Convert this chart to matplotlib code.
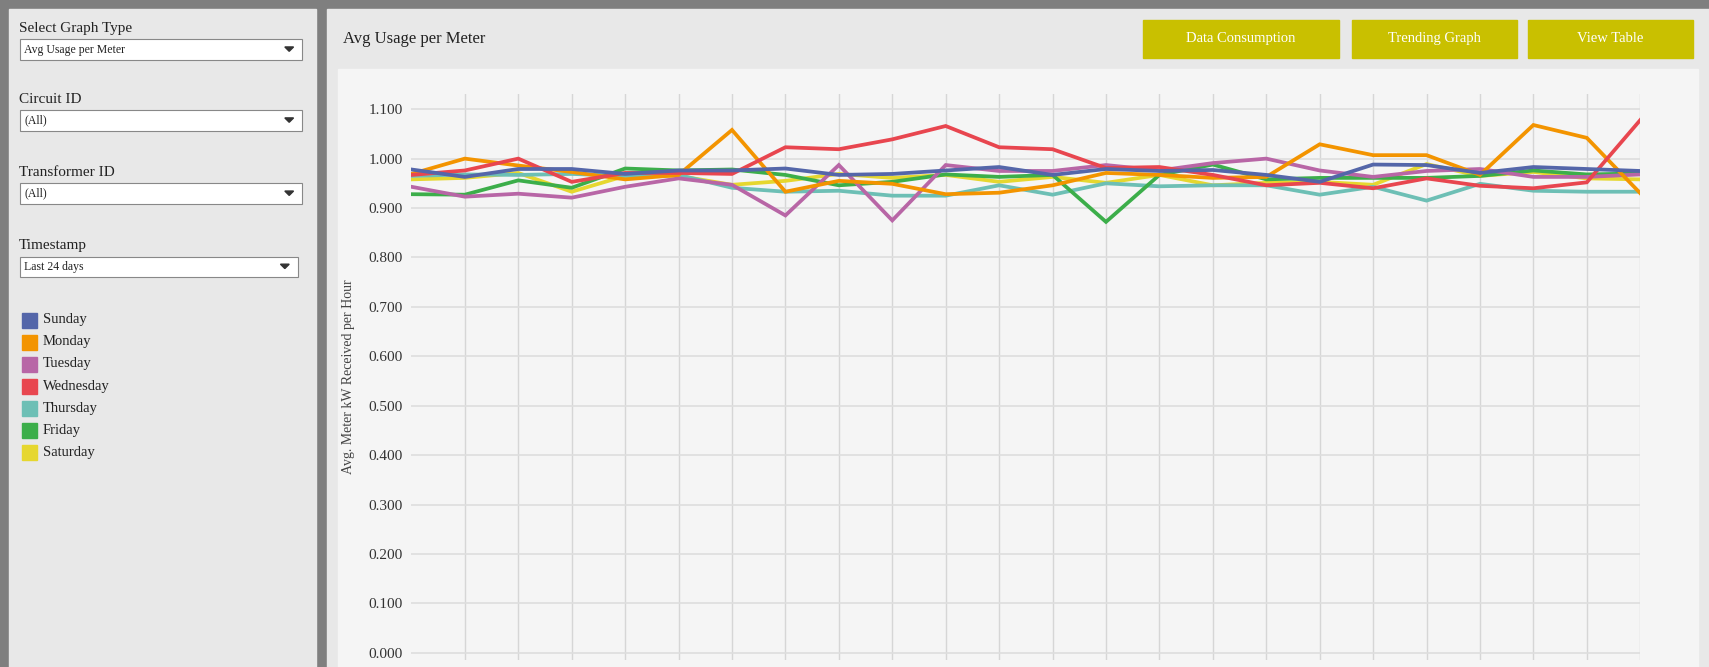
import matplotlib
matplotlib.use('Agg')
import matplotlib.pyplot as plt
from matplotlib.patches import Rectangle, Polygon

plt.rcParams['font.family'] = ['Liberation Serif', 'DejaVu Serif']

# data (24 points per weekday)
days = ['Sunday', 'Monday', 'Tuesday', 'Wednesday', 'Thursday', 'Friday', 'Saturday']
colors = ['#5466a9', '#f39400', '#b866a6', '#e8464f', '#6dbfb5', '#3cae4a', '#e6d72f']
sunday = [.978, .963, .979, .979, .969, .976, .976, .980, .967, .969, .976, .983,
          .967, .979, .975, .977, .967, .953, .988, .987, .971, .983, .979, .975]
monday = [.969, 1.0, .986, .973, .958, .967, 1.058, .933, .955, .949, .928, .931,
          .946, .971, .967, .961, .963, 1.029, 1.007, 1.007, .967, 1.068, 1.042, .930]
tuesday = [.943, .923, .929, .921, .943, .960, .947, .885, .987, .875, .987, .975,
           .975, .987, .976, .991, 1.0, .976, .963, .975, .979, .963, .963, .968]
wednesday = [.967, .976, 1.0, .953, .971, .971, .969, 1.023, 1.019, 1.039, 1.066, 1.023,
             1.019, .981, .983, .967, .946, .951, .940, .960, .945, .940, .952, 1.078]
thursday = [.965, .968, .967, .969, .965, .967, .941, .933, .935, .925, .925, .946,
            .927, .950, .944, .946, .946, .927, .943, .915, .949, .935, .933, .933]
friday = [.928, .927, .956, .941, .980, .976, .978, .967, .946, .953, .968, .963,
          .967, .872, .967, .988, .958, .961, .961, .961, .965, .976, .968, .970]
saturday = [.958, .961, .971, .933, .965, .965, .947, .955, .969, .961, .967, .953,
            .963, .951, .967, .946, .951, .953, .947, .989, .965, .973, .960, .958]
series = [sunday, monday, tuesday, wednesday, thursday, friday, saturday]
yticks = [0.0, 0.1, 0.2, 0.3, 0.4, 0.5, 0.6, 0.7, 0.8, 0.9, 1.0, 1.1]

W, H = 1566.0, 611.0
fig = plt.figure(figsize=(17.09, 6.67), dpi=100)
fig.patch.set_facecolor('#7f7f7f')

# background / dashboard furniture, drawn in screen pixel coords
bg = fig.add_axes([0, 0, 1, 1])
bg.set_xlim(0, W)
bg.set_ylim(H, 0)
bg.axis('off')
bg.add_patch(Rectangle((8, 8), 282, H, color='#e8e8e8'))
bg.add_patch(Rectangle((300, 8), W - 300, H, color='#e8e8e8'))
bg.add_patch(Rectangle((310, 63), 1246, H, color='#f5f5f5'))

def dropdown(y, label, value, x1=277):
    bg.text(17, y - 10, label, fontsize=11, va='center', color='#222222')
    bg.add_patch(Rectangle((18, y), x1 - 18, 19, facecolor='white', edgecolor='#888888', lw=0.8))
    bg.text(22, y + 9.5, value, fontsize=8.5, va='center', color='#222222')
    bg.add_patch(Polygon([(x1 - 16, y + 7), (x1 - 8, y + 7), (x1 - 12, y + 11)], color='#333333'))

dropdown(36, 'Select Graph Type', 'Avg Usage per Meter')
dropdown(101, 'Circuit ID', '(All)')
dropdown(168, 'Transformer ID', '(All)')
dropdown(235, 'Timestamp', 'Last 24 days', x1=273)

for i, (d, c) in enumerate(zip(days, colors)):
    y = 293 + i * 20.2
    bg.add_patch(Rectangle((20, y - 6.5), 14, 14, color=c))
    bg.text(39, y, d, fontsize=10.5, va='center', color='#222222')

bg.text(314, 36, 'Avg Usage per Meter', fontsize=12, va='center', color='#222222')
for x0, x1, txt in [(1047, 1227, 'Data Consumption'), (1239, 1390, 'Trending Graph'),
                    (1400, 1551, 'View Table')]:
    bg.add_patch(Rectangle((x0, 18), x1 - x0, 35, color='#c9c000'))
    bg.text((x0 + x1) / 2, 35.5, txt, fontsize=10.5, ha='center', va='center', color='white')

# main chart
y_top, y_bot = 86.0, 605.0
ax = fig.add_axes([377 / W, 1 - y_bot / H, (1503 - 377) / W, (y_bot - y_top) / H])
ax.set_facecolor('none')
ax.set_xlim(0, 23)
ax.set_ylim(-0.0155, 1.131)
for k in range(1, 24):
    ax.axvline(k, color='#d6d6d6', lw=1, zorder=1)
for t in yticks:
    ax.axhline(t, color='#dedede', lw=1.2, zorder=1)
x = list(range(len(sunday)))
for idx in [6, 4, 5, 2, 1, 3, 0]:
    ax.plot(x, series[idx], color=colors[idx], lw=2.7, zorder=3, solid_joinstyle='miter')
ax.set_yticks(yticks)
ax.set_yticklabels([f'{t:.3f}' for t in yticks], fontsize=11, color='#333333')
ax.tick_params(axis='y', length=0, pad=6)
ax.set_xticks([])
for s in ax.spines.values():
    s.set_visible(False)
ax.set_ylabel('Avg. Meter kW Received per Hour', fontsize=10, color='#444444', labelpad=10)

fig.savefig('out.png', dpi=100, facecolor=fig.get_facecolor())
